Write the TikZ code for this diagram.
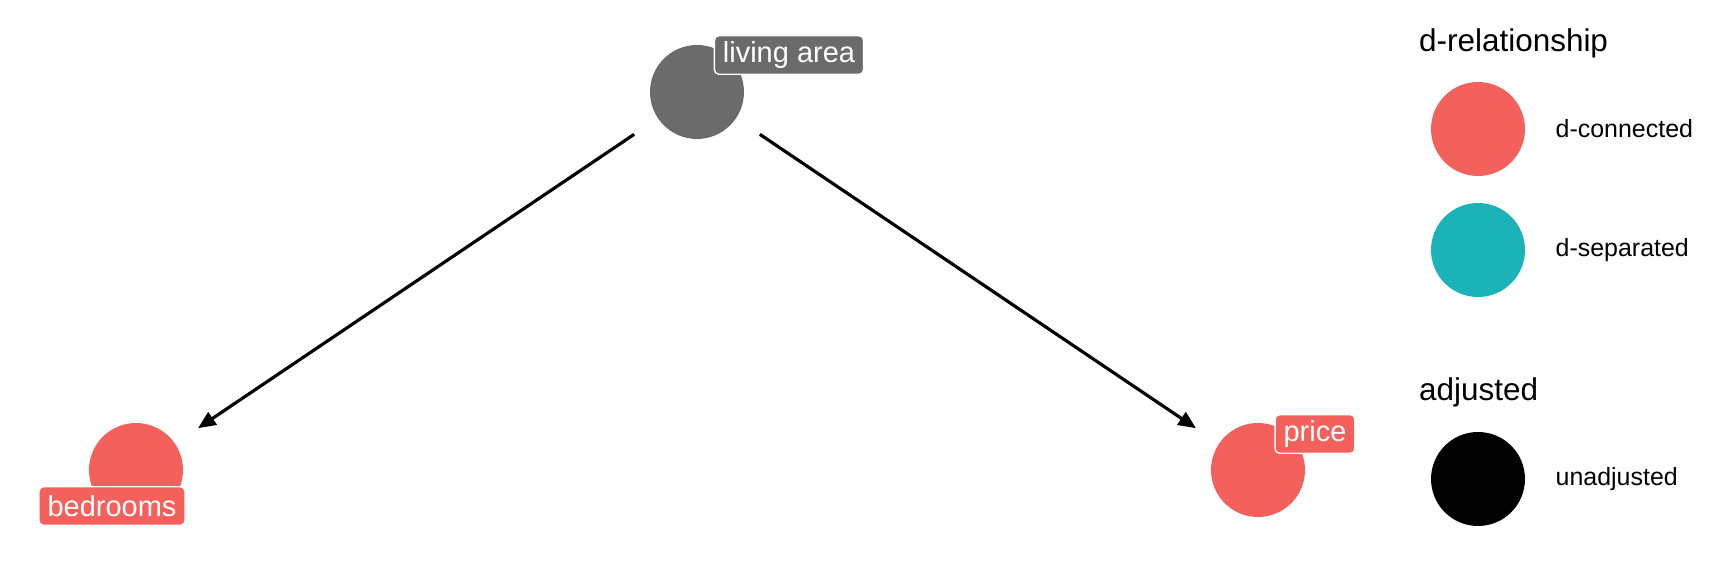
\documentclass[tikz,border=0pt]{standalone}
\usepackage{fontspec}
\setmainfont{Liberation Sans}
\usepackage{xcolor}
\usetikzlibrary{positioning, arrows.meta}

\definecolor{dconn}{HTML}{F4605B}
\definecolor{dsep}{HTML}{19B3B8}
\definecolor{unadj}{HTML}{6B6B6B}

\begin{document}
\begin{tikzpicture}[x=0.02cm,y=-0.02cm,
    var/.style={circle,minimum size=1.88cm,inner sep=0pt},
    tag/.style={rounded corners=2.5pt,draw=white,line width=0.8pt,text=white,
        inner xsep=0.17cm,inner ysep=0pt,minimum height=0.77cm,
        font=\fontsize{16.5}{18}\selectfont},
    link/.style={-{Triangle[length=10pt,width=8.5pt]},line width=1.8pt,
        shorten <=0.57cm,shorten >=0.55cm},
    keytitle/.style={anchor=base west,font=\fontsize{17.9}{20}\selectfont},
    keytext/.style={font=\fontsize{14.2}{16}\selectfont,inner sep=0pt}]
    \useasboundingbox (0,0) rectangle (1728,570);

    % the graph
    \node[var,fill=unadj] (area) at (697,92) {};
    \node[var,fill=dconn] (bed) at (136,470) {};
    \node[var,fill=dconn] (price) at (1258,470) {};

    \draw[link] (area) -- (bed);
    \draw[link] (area) -- (price);

    \node[tag,fill=unadj] (areatag) at (789,55) {living area};
    \node[tag,fill=dconn] (bedtag) at (112,506) {bedrooms};
    \node[tag,fill=dconn] (pricetag) at (1315,434) {price};

    % legend
    \node[keytitle] (reltitle) at (1413,52) {d-relationship};
    \node[var,fill=dconn] (conn) at (1478,129) {};
    \node[var,fill=dsep] (sep) at (1478,250) {};
    \node[keytext] (conntext) [right=0.6cm of conn] {d-connected};
    \node[keytext] (septext) [right=0.6cm of sep] {d-separated};

    \node[keytitle] (adjtitle) at (1413,401) {adjusted};
    \node[var,fill=black] (unadjkey) at (1478,479) {};
    \node[keytext] (unadjtext) [right=0.6cm of unadjkey] {unadjusted};
\end{tikzpicture}
\end{document}
